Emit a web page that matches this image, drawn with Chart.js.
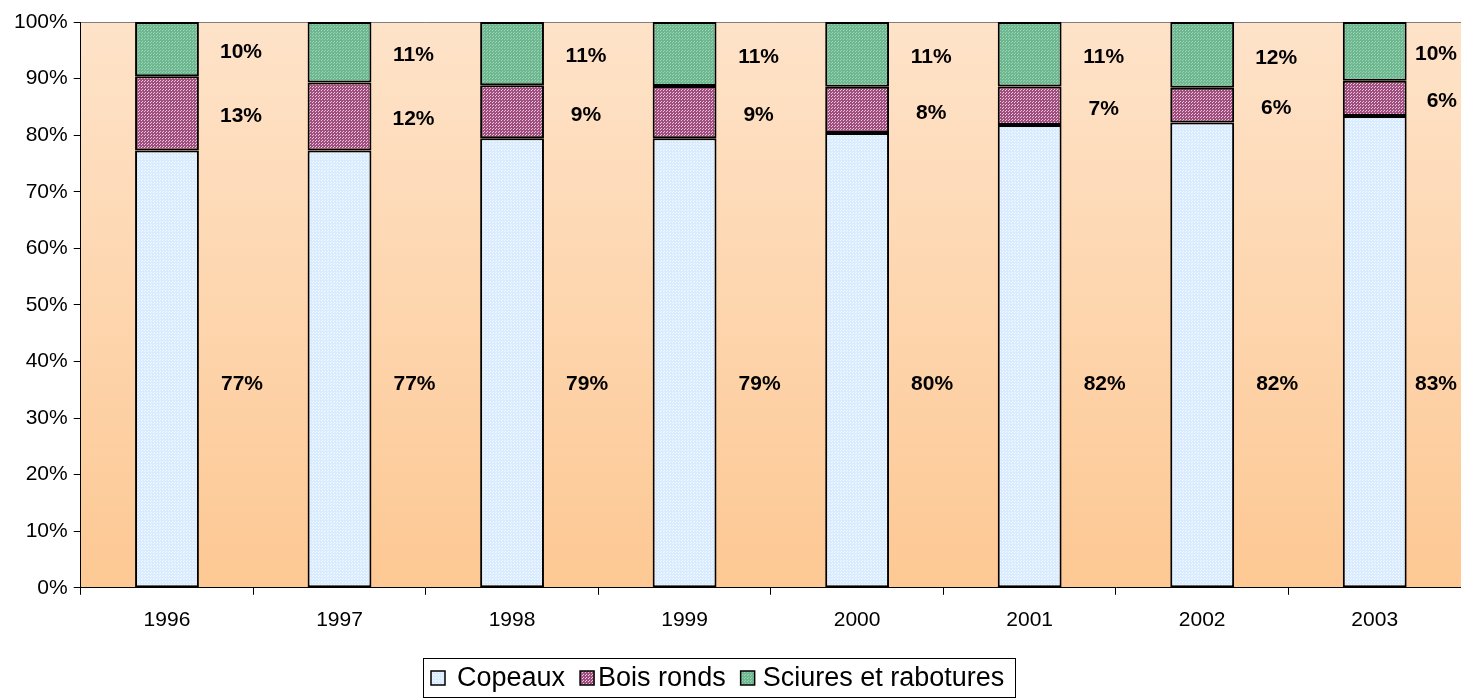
<!DOCTYPE html>
<html>
<head>
<meta charset="utf-8">
<script src="https://cdn.jsdelivr.net/npm/chart.js@4/dist/chart.umd.min.js"></script>
<style>
  html, body { margin: 0; padding: 0; background: #fff; }
  #wrap { width: 1461px; height: 698px; }
</style>
</head>
<body>
<div id="wrap"><canvas id="chart" width="1461" height="698"></canvas></div>
<script>
const years = ['1996', '1997', '1998', '1999', '2000', '2001', '2002', '2003'];
const copeaux = [77.3, 77.3, 79.45, 79.45, 80.4, 81.8, 82.25, 83.4];
const boisRonds = [13.1, 12.0, 9.35, 9.25, 8.15, 6.8, 6.15, 6.2];
const sciures = [9.6, 10.7, 11.2, 11.3, 11.45, 11.4, 11.6, 10.4];
const yTicks = [0, 10, 20, 30, 40, 50, 60, 70, 80, 90, 100];

// little dotted fill like the old spreadsheet patterns
const pattern = (base, dot) => {
  const c = document.createElement('canvas');
  c.width = 3;
  c.height = 3;
  const x = c.getContext('2d');
  x.fillStyle = base;
  x.fillRect(0, 0, 3, 3);
  x.fillStyle = dot;
  x.fillRect(0, 0, 1, 1);
  x.fillRect(1, 2, 1, 1);
  return x.createPattern(c, 'repeat');
};

const font = 'Liberation Sans, Arial, sans-serif';

const background = {
  id: 'background',
  beforeDraw(chart) {
    const { ctx, chartArea: a } = chart;
    const g = ctx.createLinearGradient(0, a.top, 0, a.bottom);
    g.addColorStop(0, '#fee3c9');
    g.addColorStop(1, '#fdc893');
    ctx.save();
    ctx.fillStyle = g;
    ctx.fillRect(a.left, a.top, a.right - a.left, a.bottom - a.top);
    ctx.strokeStyle = '#808080';
    ctx.lineWidth = 1;
    ctx.beginPath();
    ctx.moveTo(a.left, a.top + 0.5);
    ctx.lineTo(a.right, a.top + 0.5);
    ctx.stroke();
    ctx.restore();
  }
};

// percent labels to the right of each bar
const sideLabels = {
  id: 'sideLabels',
  afterDatasetsDraw(chart) {
    const { ctx } = chart;
    const y = chart.scales.y;
    ctx.save();
    ctx.font = 'bold 21px ' + font;
    ctx.fillStyle = '#000';
    ctx.textAlign = 'center';
    ctx.textBaseline = 'middle';
    chart.data.datasets.forEach((ds, di) => {
      chart.getDatasetMeta(di).data.forEach((bar, i) => {
        const txt = Math.round(ds.data[i]) + '%';
        let ly = (bar.y + bar.base) / 2 + 3;
        let lx = bar.x + 74;
        if (di === 0) {
          ly = y.getPixelForValue(36);
          lx = bar.x + 75;
        }
        // keep the last column inside the picture
        const half = ctx.measureText(txt).width / 2;
        lx = Math.min(lx, chart.width - 4 - half);
        ctx.fillText(txt, lx, ly);
      });
    });
    ctx.restore();
  }
};

// boxed legend drawn by hand, tight like the original
const legendBox = {
  id: 'legendBox',
  afterDraw(chart) {
    const { ctx } = chart;
    const box = 14, sep = 15, padL = 8, padR = 11;
    const gaps = [12, 4, 8];
    ctx.save();
    ctx.font = '27px ' + font;
    const items = chart.data.datasets.map((ds, i) => ({ ds, w: ctx.measureText(ds.label).width, g: gaps[i] }));
    const total = padL + padR + items.reduce((s, it) => s + box + it.g + it.w, 0) + sep * (items.length - 1);
    const left = 423;
    const top = 658, h = 39;
    ctx.strokeStyle = '#000';
    ctx.lineWidth = 1;
    ctx.strokeRect(left + 0.5, top + 0.5, Math.round(total), h);
    let x = left + padL;
    const cy = 678;
    ctx.textBaseline = 'middle';
    items.forEach(it => {
      ctx.fillStyle = it.ds.backgroundColor;
      ctx.fillRect(x, cy - box / 2, box, box);
      ctx.lineWidth = 1.5;
      ctx.strokeStyle = '#000';
      ctx.strokeRect(x, cy - box / 2, box, box);
      x += box + it.g;
      ctx.fillStyle = '#000';
      ctx.fillText(it.ds.label, x, cy + 1);
      x += it.w + sep;
    });
    ctx.restore();
  }
};

const dataset = (label, data, fill) => ({
  label,
  data,
  backgroundColor: fill,
  borderColor: '#000',
  borderWidth: 2,
  borderSkipped: false,
  barPercentage: 0.37,
  categoryPercentage: 1
});

new Chart(document.getElementById('chart').getContext('2d'), {
  type: 'bar',
  data: {
    labels: years,
    datasets: [
      dataset('Copeaux', copeaux, pattern('#d9ecff', '#f4f9ff')),
      dataset('Bois ronds', boisRonds, pattern('#a04f80', '#e8c6da')),
      dataset('Sciures et rabotures', sciures, pattern('#6db890', '#9ed2b4'))
    ]
  },
  options: {
    responsive: false,
    animation: false,
    layout: { padding: { top: 22, left: 8, right: 0, bottom: 52 } },
    scales: {
      x: {
        stacked: true,
        offset: true,
        grid: { offset: true, drawOnChartArea: false, color: '#000', tickLength: 7 },
        border: { color: '#000', width: 1 },
        ticks: { color: '#000', font: { family: font, size: 21 }, padding: 13 }
      },
      y: {
        stacked: true,
        min: 0,
        max: 100,
        afterBuildTicks: s => { s.ticks = yTicks.map(v => ({ value: v })); },
        grid: { drawOnChartArea: false, color: '#000', tickLength: 7 },
        border: { color: '#000', width: 1 },
        ticks: { color: '#000', font: { family: font, size: 21 }, padding: 6, callback: v => v + '%' }
      }
    },
    plugins: {
      tooltip: { enabled: false },
      legend: { display: false }
    }
  },
  plugins: [background, sideLabels, legendBox]
});
</script>
</body>
</html>
